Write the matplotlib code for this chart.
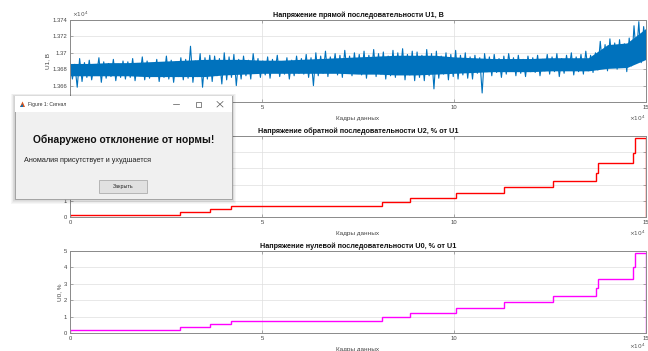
import numpy as np
import matplotlib
matplotlib.use('Agg')
import matplotlib.pyplot as plt
from matplotlib.patches import Rectangle
from matplotlib.ticker import FuncFormatter

plt.rcParams['font.family'] = ['Liberation Sans', 'DejaVu Sans']

# ---- data ----
frames_max = 150000

# U1: peaks / troughs of the noisy trace (V), 12 per 1.5e4 frames
u1_peaks = [
    13690, 13686, 13693, 13688, 13691, 13684, 13694, 13689, 13687, 13692, 13686, 13690,
    13689, 13693, 13687, 13695, 13690, 13686, 13692, 13688, 13696, 13691, 13689, 13694,
    13692, 13708, 13690, 13699, 13694, 13697, 13696, 13693, 13700, 13695, 13698, 13692,
    13696, 13691, 13699, 13693, 13690, 13695, 13692, 13697, 13689, 13694, 13691, 13696,
    13693, 13698, 13694, 13700, 13696, 13702, 13695, 13699, 13697, 13703, 13696, 13700,
    13698, 13702, 13697, 13704, 13699, 13701, 13696, 13703, 13700, 13705, 13698, 13702,
    13701, 13697, 13704, 13699, 13702, 13696, 13700, 13698, 13703, 13697, 13700, 13695,
    13697, 13694, 13699, 13695, 13698, 13693, 13696, 13699, 13694, 13697, 13692, 13696,
    13694, 13697, 13692, 13698, 13695, 13699, 13693, 13697, 13700, 13695, 13698, 13702,
    13697, 13700, 13714, 13710, 13717, 13712, 13716, 13711, 13718, 13733, 13738, 13732,
]
u1_troughs = [
    13668, 13658, 13665, 13670, 13667, 13673, 13664, 13669, 13671, 13666, 13670, 13668,
    13670, 13666, 13672, 13667, 13669, 13674, 13665, 13670, 13668, 13664, 13671, 13667,
    13669, 13664, 13671, 13658, 13668, 13665, 13672, 13662, 13667, 13670, 13660, 13668,
    13672, 13668, 13675, 13670, 13673, 13669, 13676, 13671, 13674, 13668, 13672, 13675,
    13674, 13670, 13660, 13672, 13675, 13671, 13677, 13673, 13670, 13676, 13672, 13675,
    13673, 13669, 13675, 13671, 13674, 13668, 13672, 13670, 13676, 13667, 13673, 13666,
    13670, 13666, 13672, 13656, 13669, 13674, 13667, 13671, 13668, 13673, 13669, 13668,
    13675, 13651, 13677, 13672, 13676, 13670, 13674, 13678, 13672, 13675, 13671, 13677,
    13676, 13672, 13678, 13674, 13677, 13671, 13675, 13679, 13673, 13677, 13674, 13678,
    13676, 13679, 13682, 13678, 13685, 13680, 13683, 13677, 13684, 13696, 13688, 13700,
]
# dense core of the U1 trace, every 5e3 frames
u1_core_hi = [13687, 13687, 13688, 13688, 13689, 13690, 13691, 13692, 13692, 13692,
              13691, 13691, 13692, 13693, 13694, 13695, 13696, 13697, 13697, 13697,
              13695, 13694, 13693, 13693, 13693, 13694, 13694, 13694, 13710, 13712,
              13730]
u1_core_lo = [13672, 13672, 13672, 13672, 13671, 13671, 13671, 13671, 13673, 13674,
              13675, 13675, 13675, 13675, 13675, 13674, 13674, 13673, 13673, 13674,
              13675, 13676, 13677, 13677, 13677, 13678, 13678, 13678, 13681, 13682,
              13692]

# U2 / U0 step curves (% of U1)
step_edges = [0, 28600, 36500, 42000, 81200, 88500, 100500, 113000,
              125700, 136900, 137500, 146600, 147100, 150000]
u2_levels = [0.15, 0.31, 0.50, 0.70, 0.92, 1.17, 1.48, 1.83, 2.24, 2.70, 3.33, 3.97, 4.86]
u0_levels = [0.18, 0.35, 0.55, 0.75, 0.96, 1.24, 1.54, 1.89, 2.28, 2.72, 3.30, 4.00, 4.86]

titles = ['Напряжение прямой последовательности U1, В',
          'Напряжение обратной последовательности U2, % от U1',
          'Напряжение нулевой последовательности U0, % от U1']
ylabels = ['U1, В', 'U2, %', 'U0, %']
xlabel = 'Кадры данных'

# ---- figure ----
fig = plt.figure(figsize=(6.48, 3.51), dpi=100)
ax1 = fig.add_axes([0.108, 0.7094, 0.889, 0.2336])
ax2 = fig.add_axes([0.108, 0.3818, 0.889, 0.2308])
ax3 = fig.add_axes([0.108, 0.0513, 0.889, 0.2336])
axes = [ax1, ax2, ax3]

blue = '#0072BD'
xs = np.linspace(0, frames_max, 2 * len(u1_peaks))
zig = np.empty(2 * len(u1_peaks))
zig[0::2] = u1_peaks
zig[1::2] = u1_troughs
core_x = np.linspace(0, frames_max, len(u1_core_hi))
ax1.fill_between(core_x, u1_core_lo, u1_core_hi, color=blue, lw=0)
ax1.plot(xs, zig, color=blue, lw=0.8)
ax1.set_ylim(13640, 13740)
ax1.set_yticks(np.arange(13640, 13741, 20))
ax1.yaxis.set_major_formatter(FuncFormatter(lambda v, p: f'{v / 1e4:g}'))
ax1.text(0.004, 1.01, r'$\times10^{4}$', transform=ax1.transAxes, fontsize=4.2,
         color='#555555', ha='left', va='bottom')

ax2.stairs(u2_levels, step_edges, color='#FF0000', lw=1.0)
ax3.stairs(u0_levels, step_edges, color='#FF00FF', lw=1.0)
for ax in (ax2, ax3):
    ax.set_ylim(0, 5)
    ax.set_yticks(range(6))

for ax, t, yl in zip(axes, titles, ylabels):
    ax.set_xlim(0, frames_max)
    ax.set_xticks([0, 50000, 100000, 150000])
    ax.xaxis.set_major_formatter(FuncFormatter(lambda v, p: f'{v / 1e4:g}'))
    ax.grid(True, color='#dedede', lw=0.5)
    ax.set_axisbelow(True)
    ax.tick_params(direction='in', length=2.5, width=0.5, labelsize=4.2,
                   colors='#8a8a8a', labelcolor='#444444', pad=2,
                   top=True, right=True)
    for s in ax.spines.values():
        s.set_color('#8a8a8a')
        s.set_linewidth(0.7)
    ax.set_title(t, fontsize=5.2, fontweight='bold', pad=2.5, color='#111111')
    ax.set_xlabel(xlabel, fontsize=4.6, color='#444444')
    ax.xaxis.set_label_coords(0.5, -0.17)
    ax.set_ylabel(yl, fontsize=4.6, color='#444444')
ax1.text(1.0, -0.14, r'$\times10^{4}$', transform=ax1.transAxes, fontsize=4.2,
         color='#555555', ha='right', va='top')
ax2.text(1.0, -0.14, r'$\times10^{4}$', transform=ax2.transAxes, fontsize=4.2,
         color='#555555', ha='right', va='top')
ax3.text(1.0, -0.11, r'$\times10^{4}$', transform=ax3.transAxes, fontsize=4.2,
         color='#555555', ha='right', va='top')
ax1.yaxis.set_label_coords(-0.034, 0.5)
ax2.yaxis.set_label_coords(-0.013, 0.5)
ax3.yaxis.set_label_coords(-0.013, 0.5)

# ---- message box window on top (pixel coords) ----
dlg = fig.add_axes([0, 0, 1, 1], zorder=10)
dlg.set_xlim(0, 648)
dlg.set_ylim(351, 0)
dlg.axis('off')

wx, wy, ww, wh = 15, 96, 217, 103
for i in range(1, 6):
    dlg.add_patch(Rectangle((wx - i * 0.8, wy - i * 0.4), ww + i * 1.6, wh + i * 1.4,
                            facecolor='black', alpha=0.035, lw=0))
dlg.add_patch(Rectangle((wx, wy), ww, wh, facecolor='#F0F0F0',
                        edgecolor='#9a9a9a', lw=0.6))
dlg.add_patch(Rectangle((wx + 0.3, wy + 0.3), ww - 0.6, 15.5, facecolor='white', lw=0))

# title bar: icon, caption, window buttons
dlg.add_patch(plt.Polygon([[20, 107], [22.5, 101.5], [25, 107]], facecolor='#D95319', lw=0))
dlg.add_patch(plt.Polygon([[20, 107], [22.5, 104], [23, 107]], facecolor='#0072BD', lw=0))
dlg.text(28, 104.5, 'Figure 1: Сигнал', fontsize=3.6, color='#333333', va='center')
dlg.plot([173, 179], [104, 104], color='#555555', lw=0.5)
dlg.add_patch(Rectangle((195.5, 101.5), 5, 5, facecolor='none', edgecolor='#555555', lw=0.5))
dlg.plot([217, 223], [101.5, 107], color='#555555', lw=0.5)
dlg.plot([217, 223], [107, 101.5], color='#555555', lw=0.5)

dlg.text(123.5, 139.5, 'Обнаружено отклонение от нормы!', fontsize=7.4,
         fontweight='bold', color='#111111', ha='center', va='center')
dlg.text(24, 161, 'Аномалия присутствует и ухудшается', fontsize=5.2,
         color='#222222', ha='left', va='center')
dlg.add_patch(Rectangle((99, 180), 48, 13, facecolor='#E1E1E1',
                        edgecolor='#ADADAD', lw=0.6))
dlg.text(123, 186.5, 'Закрыть', fontsize=3.8, color='#222222',
         ha='center', va='center')

fig.savefig('out.png', dpi=100)
